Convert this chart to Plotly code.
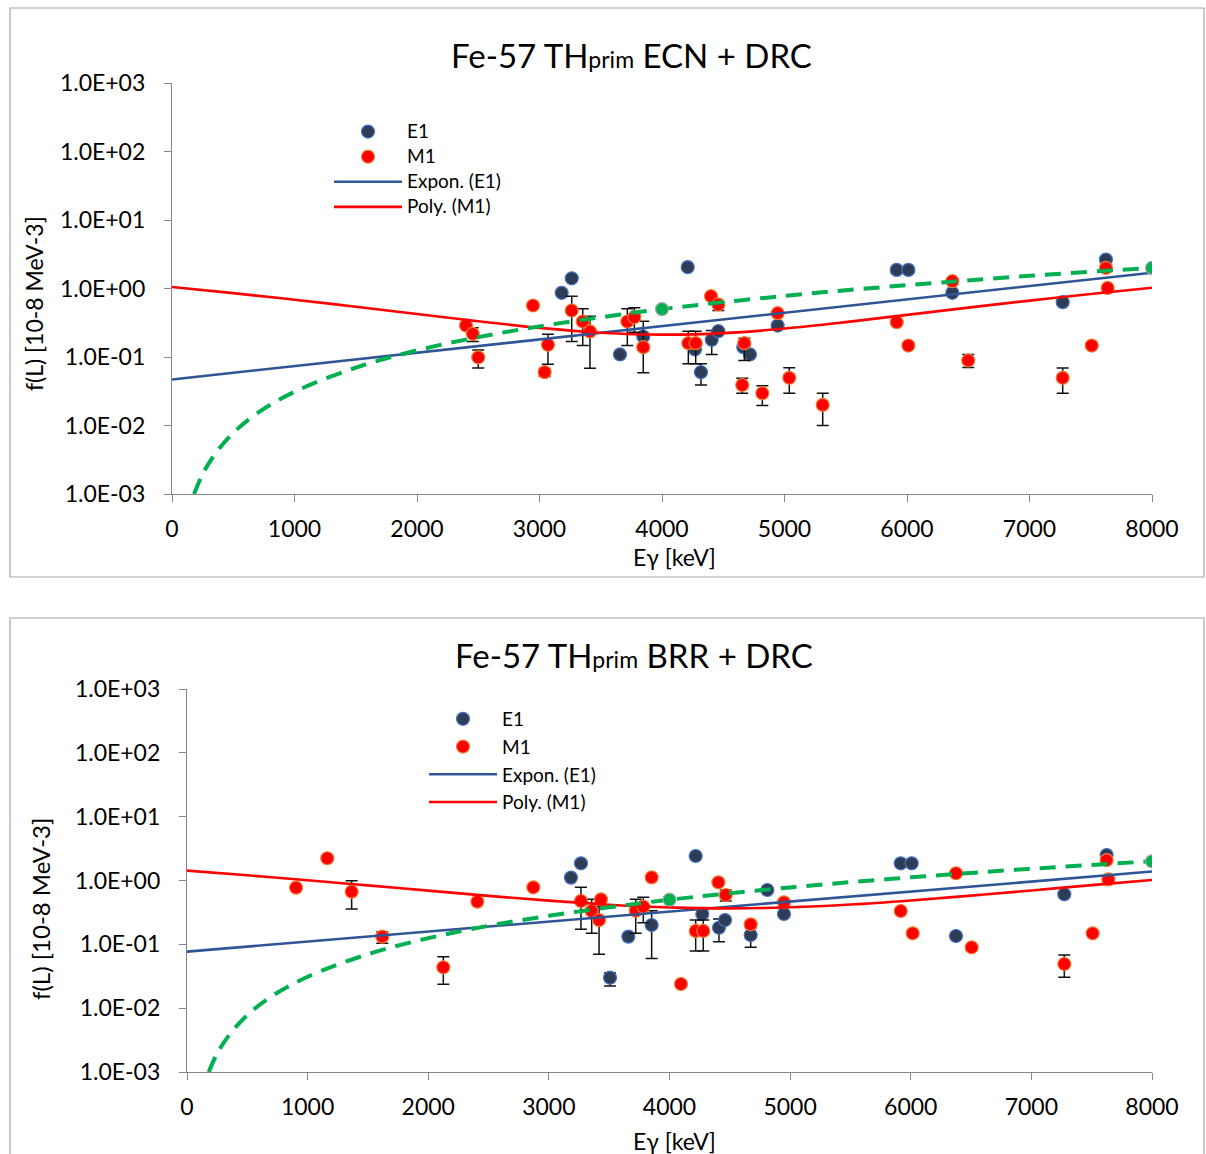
import plotly.graph_objects as go

W, H = 1206, 1154
FONT = "Lato"

# ---------------- data: top panel (ECN + DRC) ----------------
top_e1_x = [3181, 3263, 3657, 3847, 4210, 4269, 4318, 4406, 4460, 4664, 4718, 4944, 5916, 6011, 6370, 7271, 7624]
top_e1_y = [0.865, 1.41, 0.109, 0.199, 2.05, 0.129, 0.060, 0.178, 0.238, 0.139, 0.109, 0.288, 1.87, 1.87, 0.865, 0.631, 2.65]
top_e1_hi = [None, None, None, None, None, None, 0.080, 0.244, None, None, None, None, None, None, None, None, 2.9]
top_e1_lo = [None, None, None, None, None, None, 0.039, 0.109, None, None, None, None, None, None, None, None, 2.4]

top_m1_x = [2400, 2455, 2500, 2947, 3042, 3069, 3263, 3353, 3412, 3717, 3774, 3847, 4215, 4275, 4400,
            4460, 4655, 4672, 4819, 4944, 5039, 5312, 5916, 6011, 6370, 6500, 7271, 7508, 7624, 7638]
top_m1_y = [0.288, 0.218, 0.099, 0.565, 0.060, 0.151, 0.477, 0.330, 0.236, 0.330, 0.381, 0.139, 0.159, 0.159, 0.772,
            0.584, 0.039, 0.159, 0.0296, 0.436, 0.0497, 0.020, 0.322, 0.147, 1.28, 0.089, 0.0497, 0.147, 2.0, 1.02]
top_m1_hi = [None, 0.267, 0.127, None, 0.068, 0.215, 0.772, 0.505, 0.394, 0.505, 0.523, 0.333, 0.238, 0.238, None,
             0.60, 0.049, 0.188, 0.038, 0.46, 0.0696, 0.0296, 0.34, 0.16, None, 0.109, 0.069, 0.16, 2.15, None]
top_m1_lo = [None, 0.168, 0.069, None, 0.052, 0.0785, 0.168, 0.147, 0.0686, 0.147, 0.230, 0.0588, 0.0796, 0.0796, None,
             0.477, 0.0296, 0.089, 0.0196, 0.41, 0.0296, 0.010, 0.30, 0.135, None, 0.070, 0.0296, 0.135, 1.85, None]

top_exp_x = [0, 8000]
top_exp_y = [0.047, 1.70]

poly_x = [0, 500, 1000, 1500, 2000, 2500, 3000, 3500, 4000, 4500, 5000, 5500, 6000, 6500, 7000, 7500, 8000]
top_poly_y = [1.05, 0.855, 0.686, 0.542, 0.424, 0.333, 0.266, 0.226, 0.212, 0.223, 0.26, 0.323, 0.412, 0.526, 0.666, 0.833, 1.024]

# ---------------- data: bottom panel (BRR + DRC) ----------------
bot_e1_x = [3183, 3266, 3507, 3659, 3852, 4217, 4272, 4410, 4460, 4673, 4811, 4949, 5917, 6008, 6375, 7273, 7624]
bot_e1_y = [1.11, 1.86, 0.030, 0.132, 0.201, 2.42, 0.299, 0.182, 0.240, 0.140, 0.71, 0.299, 1.86, 1.86, 0.135, 0.608, 2.51]
bot_e1_hi = [None, None, 0.036, None, 0.336, None, None, 0.249, None, 0.18, None, None, None, None, 0.145, None, 2.7]
bot_e1_lo = [None, None, 0.0222, None, 0.060, None, None, 0.11, None, 0.09, None, None, None, None, 0.125, None, 2.35]

bot_m1_x = [904, 1163, 1365, 1619, 2125, 2407, 2871, 3266, 3355, 3416, 3432, 3720, 3783, 3852, 4095,
            4217, 4280, 4405, 4466, 4673, 4949, 5917, 6016, 6375, 6505, 7273, 7508, 7624, 7638]
bot_m1_y = [0.771, 2.23, 0.668, 0.132, 0.0437, 0.466, 0.782, 0.477, 0.333, 0.240, 0.507, 0.336, 0.389, 1.12, 0.0239,
            0.162, 0.162, 0.937, 0.593, 0.206, 0.455, 0.333, 0.149, 1.30, 0.0898, 0.0492, 0.149, 2.09, 1.04]
bot_m1_hi = [0.80, None, 0.99, 0.158, 0.064, None, None, 0.782, 0.507, 0.39, None, 0.507, 0.546, None, None,
             0.240, 0.240, None, 0.71, None, None, 0.35, 0.16, None, 0.098, 0.068, 0.16, None, None]
bot_m1_lo = [0.74, None, 0.358, 0.104, 0.0237, None, None, 0.172, 0.149, 0.070, None, 0.149, 0.218, None, None,
             0.0786, 0.0786, None, 0.477, None, None, 0.31, 0.138, None, 0.08, 0.0304, 0.138, None, None]

bot_exp_x = [0, 8000]
bot_exp_y = [0.077, 1.38]
bot_poly_y = [1.43, 1.206, 1.009, 0.838, 0.693, 0.575, 0.483, 0.418, 0.379, 0.366, 0.38, 0.42, 0.487, 0.58, 0.699, 0.845, 1.017]

# green dashed reference curve (same in both panels)
green_x = [180, 250, 350, 500, 700, 1000, 1500, 2000, 2500, 3000, 3500, 4000, 5000, 6000, 7000, 8000]
green_y = [0.001, 0.00195, 0.0038, 0.0078, 0.0153, 0.031, 0.070, 0.125, 0.195, 0.28, 0.38, 0.5, 0.78, 1.12, 1.53, 2.0]
green_pt_x = [4000, 8000]
green_pt_y = [0.5, 2.0]

x_ticks = [0, 1000, 2000, 3000, 4000, 5000, 6000, 7000, 8000]
y_tickvals = [1e-3, 1e-2, 1e-1, 1, 10, 100, 1000]
y_ticktext = ["1.0E-03", "1.0E-02", "1.0E-01", "1.0E+00", "1.0E+01", "1.0E+02", "1.0E+03"]

legend_names = ["E1", "M1", "Expon. (E1)", "Poly. (M1)"]

# ---------------- styles ----------------
E1_FILL, E1_LINE = "#2F3C55", "#4472C4"
M1_FILL, M1_LINE = "#FF0000", "#ED7D31"
EXP_COLOR = "#2F5597"
POLY_COLOR = "#FF0000"
GREEN = "#00B050"


def errs(y, hi, lo):
    plus = [(h - v) if h is not None else 0 for v, h in zip(y, hi)]
    minus = [(v - l) if l is not None else 0 for v, l in zip(y, lo)]
    return plus, minus


fig = go.Figure()


def add_panel(xa, ya, leg, name_fmt, e1x, e1y, e1hi, e1lo, m1x, m1y, m1hi, m1lo, expx, expy, polyy):
    names = [name_fmt.format(n) for n in legend_names]
    p, m = errs(e1y, e1hi, e1lo)
    fig.add_trace(go.Scatter(x=e1x, y=e1y, mode="markers", name=names[0], legend=leg,
                             xaxis=xa, yaxis=ya,
                             marker=dict(size=13, color=E1_FILL, line=dict(color=E1_LINE, width=1.2)),
                             error_y=dict(type="data", symmetric=False, array=p, arrayminus=m,
                                          color="#111111", thickness=1.5, width=6)))
    p, m = errs(m1y, m1hi, m1lo)
    fig.add_trace(go.Scatter(x=m1x, y=m1y, mode="markers", name=names[1], legend=leg,
                             xaxis=xa, yaxis=ya,
                             marker=dict(size=13, color=M1_FILL, line=dict(color=M1_LINE, width=1.2)),
                             error_y=dict(type="data", symmetric=False, array=p, arrayminus=m,
                                          color="#111111", thickness=1.5, width=6)))
    fig.add_trace(go.Scatter(x=expx, y=expy, mode="lines", name=names[2], legend=leg,
                             xaxis=xa, yaxis=ya, line=dict(color=EXP_COLOR, width=2.6)))
    fig.add_trace(go.Scatter(x=poly_x, y=polyy, mode="lines", name=names[3], legend=leg,
                             xaxis=xa, yaxis=ya, line=dict(color=POLY_COLOR, width=2.6, shape="spline")))
    fig.add_trace(go.Scatter(x=green_x, y=green_y, mode="lines", showlegend=False, xaxis=xa, yaxis=ya,
                             line=dict(color=GREEN, width=4, dash="16px,10px", shape="spline")))
    fig.add_trace(go.Scatter(x=green_pt_x, y=green_pt_y, mode="markers", showlegend=False, xaxis=xa, yaxis=ya,
                             marker=dict(size=13, color=GREEN, line=dict(color="#A5A5A5", width=1.2))))


add_panel("x", "y", "legend", "<span style='font-size:19px'>{}</span>",
          top_e1_x, top_e1_y, top_e1_hi, top_e1_lo,
          top_m1_x, top_m1_y, top_m1_hi, top_m1_lo, top_exp_x, top_exp_y, top_poly_y)
add_panel("x2", "y2", "legend2", "{}",
          bot_e1_x, bot_e1_y, bot_e1_hi, bot_e1_lo,
          bot_m1_x, bot_m1_y, bot_m1_hi, bot_m1_lo, bot_exp_x, bot_exp_y, bot_poly_y)


def px_x(p):
    return p / W


def px_y(p):
    return 1 - p / H


axis_common = dict(showgrid=False, zeroline=False, showline=True, linecolor="#868686", linewidth=1.2,
                   ticks="outside", ticklen=7, tickcolor="#868686", tickwidth=1.2, automargin=False,
                   tickfont=dict(family=FONT, size=23, color="#000000"))

xa = dict(axis_common, range=[0, 8000], tickvals=x_ticks, ticklabelstandoff=7)
ya = dict(axis_common, type="log", range=[-3, 3], tickvals=y_tickvals, ticktext=y_ticktext, ticklabelstandoff=14)

fig.update_layout(
    width=W, height=H, autosize=False, margin=dict(l=0, r=0, t=0, b=0, pad=0, autoexpand=False),
    paper_bgcolor="white", plot_bgcolor="white",
    showlegend=True,
    xaxis=dict(xa, domain=[px_x(172), px_x(1152)], anchor="y"),
    yaxis=dict(ya, domain=[px_y(494), px_y(83)], anchor="x"),
    xaxis2=dict(xa, domain=[px_x(187), px_x(1152)], anchor="y2"),
    yaxis2=dict(ya, domain=[px_y(1072), px_y(689)], anchor="x2"),
    legend=dict(x=px_x(329), y=px_y(114), xanchor="left", yanchor="top", bgcolor="rgba(0,0,0,0)",
                font=dict(family=FONT, size=17, color="#000000"), itemwidth=68,
                traceorder="normal"),
    legend2=dict(x=px_x(424), y=px_y(700), xanchor="left", yanchor="top", bgcolor="rgba(0,0,0,0)",
                 font=dict(family=FONT, size=19, color="#000000"), itemwidth=68,
                 traceorder="normal"),
)

# panel frames (bottom panel's lower edge lies outside the picture)
fig.add_shape(type="rect", xref="paper", yref="paper", x0=px_x(10), x1=px_x(1204), y0=px_y(577), y1=px_y(8),
              line=dict(color="#A6A6A6", width=1.2), layer="below")
fx0, fx1, fy0, fy1 = px_x(10), px_x(1204), px_y(1154), px_y(618)
fig.add_shape(type="path", xref="paper", yref="paper",
              path=f"M {fx0},{fy0} L {fx0},{fy1} L {fx1},{fy1} L {fx1},{fy0}",
              line=dict(color="#A6A6A6", width=1.2), layer="below")

sub = "<span style='font-size:23px'>prim</span>"
ann = [
    dict(x=px_x(632), y=px_y(55), text="Fe-57 TH" + sub + " ECN + DRC", size=33),
    dict(x=px_x(634), y=px_y(655), text="Fe-57 TH" + sub + " BRR + DRC", size=33),
    dict(x=px_x(675), y=px_y(557), text="Eγ [keV]", size=23),
    dict(x=px_x(675), y=px_y(1141), text="Eγ [keV]", size=23),
]
for a in ann:
    fig.add_annotation(x=a["x"], y=a["y"], xref="paper", yref="paper", text=a["text"], showarrow=False,
                       xanchor="center", yanchor="middle", font=dict(family=FONT, size=a["size"], color="#000000"))
for yc, xc, fs in [(304, 34, 23), (909, 40, 24)]:
    fig.add_annotation(x=px_x(xc), y=px_y(yc), xref="paper", yref="paper", text="f(L) [10-8 MeV-3]",
                       showarrow=False, textangle=-90, xanchor="center", yanchor="middle",
                       font=dict(family=FONT, size=fs, color="#000000"))

fig.write_html("out.html")
